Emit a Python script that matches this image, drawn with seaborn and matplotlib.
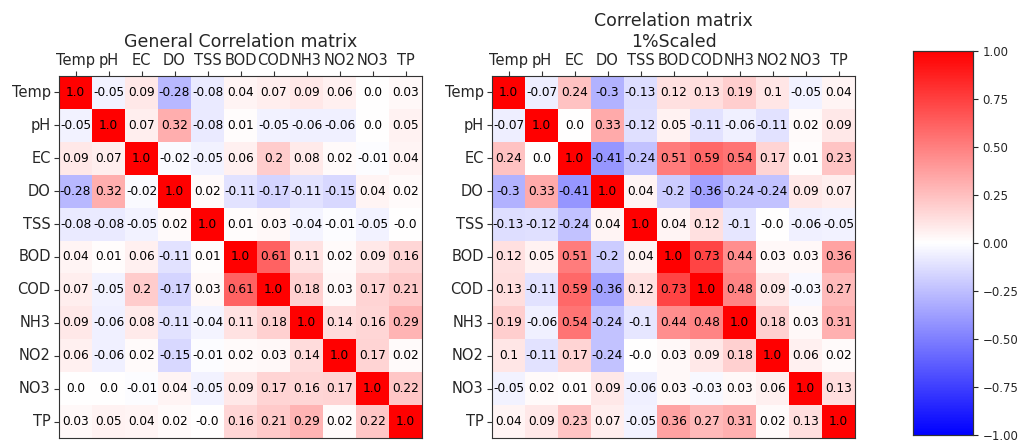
import numpy as np
import pandas as pd
import matplotlib
matplotlib.use("Agg")
import matplotlib.pyplot as plt
import seaborn as sns

labels = ["Temp", "pH", "EC", "DO", "TSS", "BOD", "COD", "NH3", "NO2", "NO3", "TP"]

general_corr = [
    [1.0, -0.05, 0.09, -0.28, -0.08, 0.04, 0.07, 0.09, 0.06, 0.0, 0.03],
    [-0.05, 1.0, 0.07, 0.32, -0.08, 0.01, -0.05, -0.06, -0.06, 0.0, 0.05],
    [0.09, 0.07, 1.0, -0.02, -0.05, 0.06, 0.2, 0.08, 0.02, -0.01, 0.04],
    [-0.28, 0.32, -0.02, 1.0, 0.02, -0.11, -0.17, -0.11, -0.15, 0.04, 0.02],
    [-0.08, -0.08, -0.05, 0.02, 1.0, 0.01, 0.03, -0.04, -0.01, -0.05, -0.0],
    [0.04, 0.01, 0.06, -0.11, 0.01, 1.0, 0.61, 0.11, 0.02, 0.09, 0.16],
    [0.07, -0.05, 0.2, -0.17, 0.03, 0.61, 1.0, 0.18, 0.03, 0.17, 0.21],
    [0.09, -0.06, 0.08, -0.11, -0.04, 0.11, 0.18, 1.0, 0.14, 0.16, 0.29],
    [0.06, -0.06, 0.02, -0.15, -0.01, 0.02, 0.03, 0.14, 1.0, 0.17, 0.02],
    [0.0, 0.0, -0.01, 0.04, -0.05, 0.09, 0.17, 0.16, 0.17, 1.0, 0.22],
    [0.03, 0.05, 0.04, 0.02, -0.0, 0.16, 0.21, 0.29, 0.02, 0.22, 1.0],
]

scaled_corr = [
    [1.0, -0.07, 0.24, -0.3, -0.13, 0.12, 0.13, 0.19, 0.1, -0.05, 0.04],
    [-0.07, 1.0, 0.0, 0.33, -0.12, 0.05, -0.11, -0.06, -0.11, 0.02, 0.09],
    [0.24, 0.0, 1.0, -0.41, -0.24, 0.51, 0.59, 0.54, 0.17, 0.01, 0.23],
    [-0.3, 0.33, -0.41, 1.0, 0.04, -0.2, -0.36, -0.24, -0.24, 0.09, 0.07],
    [-0.13, -0.12, -0.24, 0.04, 1.0, 0.04, 0.12, -0.1, -0.0, -0.06, -0.05],
    [0.12, 0.05, 0.51, -0.2, 0.04, 1.0, 0.73, 0.44, 0.03, 0.03, 0.36],
    [0.13, -0.11, 0.59, -0.36, 0.12, 0.73, 1.0, 0.48, 0.09, -0.03, 0.27],
    [0.19, -0.06, 0.54, -0.24, -0.1, 0.44, 0.48, 1.0, 0.18, 0.03, 0.31],
    [0.1, -0.11, 0.17, -0.24, -0.0, 0.03, 0.09, 0.18, 1.0, 0.06, 0.02],
    [-0.05, 0.02, 0.01, 0.09, -0.06, 0.03, -0.03, 0.03, 0.06, 1.0, 0.13],
    [0.04, 0.09, 0.23, 0.07, -0.05, 0.36, 0.27, 0.31, 0.02, 0.13, 1.0],
]

titles = ["General Correlation matrix", "Correlation matrix\n1%Scaled"]

sns.set_style("white")
plt.rcParams["font.family"] = ["DejaVu Sans"]

fig = plt.figure(figsize=(10.18, 4.41), dpi=100)
ax1 = fig.add_axes([0.058, 0.0068, 0.3566, 0.821])
ax2 = fig.add_axes([0.4833, 0.0068, 0.3566, 0.821])
cax = fig.add_axes([0.8969, 0.0136, 0.0589, 0.871])

for i, (ax, mat, title) in enumerate(zip([ax1, ax2], [general_corr, scaled_corr], titles)):
    df = pd.DataFrame(mat, index=labels, columns=labels)
    annot = np.array([[str(v) for v in row] for row in mat])
    sns.heatmap(df, ax=ax, cmap="bwr", vmin=-1, vmax=1, annot=annot, fmt="",
                annot_kws={"color": "black", "fontsize": 8.7},
                cbar=(i == 0), cbar_ax=cax if i == 0 else None, square=False)
    ax.xaxis.tick_top()
    ax.xaxis.set_label_position("top")
    ax.set_xlabel("")
    ax.set_ylabel("")
    ax.tick_params(axis="both", which="both", length=3.5, width=0.8, color="#333333",
                   top=True, bottom=False, left=True, labelsize=10.5, pad=2.5)
    plt.setp(ax.get_xticklabels(), rotation=0)
    plt.setp(ax.get_yticklabels(), rotation=0)
    for s in ax.spines.values():
        s.set_visible(True)
        s.set_color("#333333")
        s.set_linewidth(0.8)
    ax.set_title(title, fontsize=12.5, pad=4)

cax.tick_params(labelsize=8.5, length=3.5, width=0.8)
cax.set_yticks([-1.0, -0.75, -0.5, -0.25, 0.0, 0.25, 0.5, 0.75, 1.0])
cax.set_yticklabels(["\u22121.00", "\u22120.75", "\u22120.50", "\u22120.25", "0.00",
                     "0.25", "0.50", "0.75", "1.00"])
for s in cax.spines.values():
    s.set_visible(True)
    s.set_color("#333333")
    s.set_linewidth(0.8)

fig.savefig("out.png", dpi=100)
